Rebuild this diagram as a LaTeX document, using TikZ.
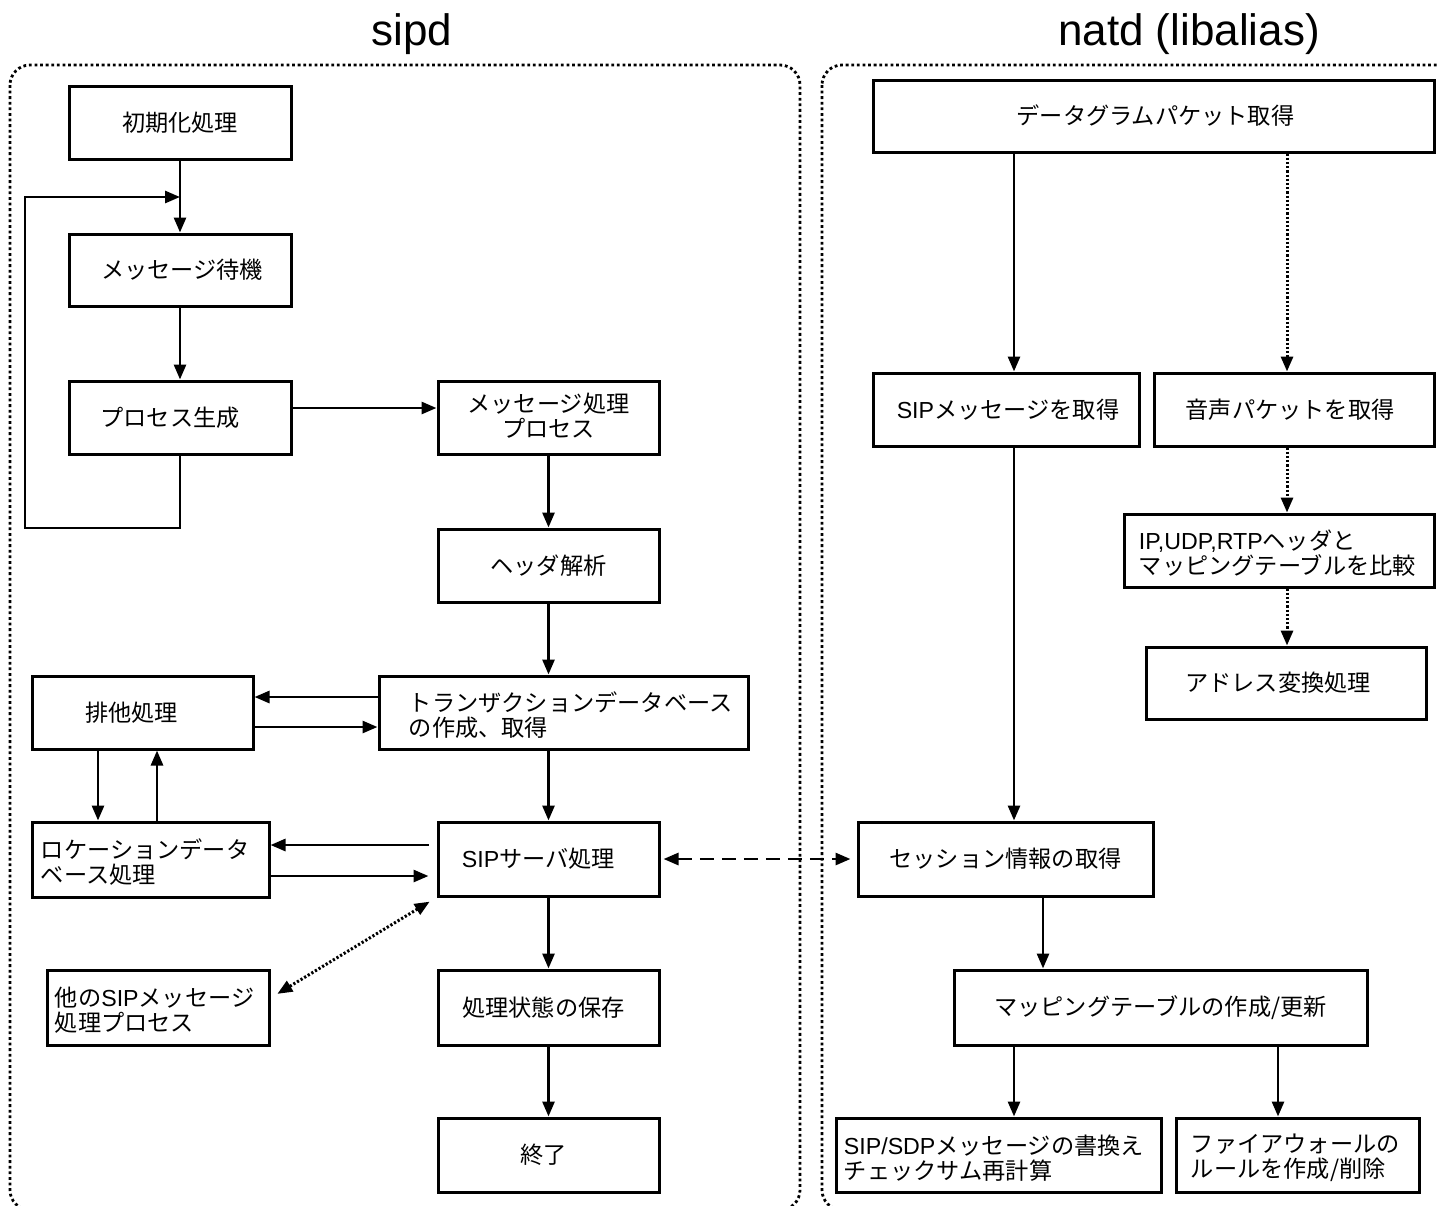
\documentclass[tikz,border=0pt]{standalone}
\usepackage{fontspec}
\setmainfont{Liberation Sans}
\newfontfamily\jpf{Noto Sans CJK JP}
\newfontfamily\enf{Liberation Sans}
\usetikzlibrary{arrows.meta,fit}

\newcommand\boxfont{\fontsize{11.6}{12.5}\selectfont\jpf}

\begin{document}
\begin{tikzpicture}[x=0.5pt,y=-0.5pt,
  box/.style={draw, line width=1.5pt, inner sep=0pt},
  lbl/.style={font=\boxfont, inner sep=0pt, align=left},
  clbl/.style={font=\boxfont, inner sep=0pt, align=center},
  frame/.style={line width=1.4pt, dash pattern=on 1.4pt off 1.4pt, rounded corners=10pt},
  tip/.style={-{Triangle[length=7.5pt,width=6pt]}},
  arr/.style={line width=1.4pt, tip},
  dotarr/.style={line width=1.5pt, dash pattern=on 1.1pt off 1pt, tip},
  dasharr/.style={line width=1.4pt, dash pattern=on 7pt off 4pt,
    {Triangle[length=7.5pt,width=6pt]}-{Triangle[length=7.5pt,width=6pt]}},
  title/.style={font=\fontsize{22}{26}\selectfont\enf, anchor=base}
]
\useasboundingbox (0,0) rectangle (1438,1205);
\clip (0,0) rectangle (1438,1205);

% process groups
\draw[frame] (10,65) rectangle (800,1210);
\draw[frame] (822,65) rectangle (1480,1210);
\node[title] (tsipd) at (412,45) {sipd};
\node[title] (tnatd) at (1189,45) {natd (libalias)};

% ---- sipd ----
\node[box, fit={(69,86) (291,159)}, label={[clbl]center:初期化処理}] (init) {};
\node[box, fit={(69,234) (291,306)}, label={[clbl,xshift=1pt]center:メッセージ待機}] (wait) {};
\node[box, fit={(69,381) (291,454)}, label={[clbl,xshift=-5pt]center:プロセス生成}] (gen) {};
\node[box, fit={(438,381) (659,454)}, label={[clbl,yshift=1pt]center:メッセージ処理\\プロセス}] (msgproc) {};
\node[box, fit={(438,529) (659,602)}, label={[clbl]center:ヘッダ解析}] (hdr) {};
\node[box, fit={(379,676) (748,749)}] (trans) {};
\node[lbl, anchor=west] (transt) at ([xshift=15.5pt,yshift=-1.5pt]trans.west) {トランザクションデータベース\\の作成、取得};
\node[box, fit={(32,676) (253,749)}, label={[clbl,xshift=-5.5pt]center:排他処理}] (excl) {};
\node[box, fit={(32,822) (269,897)}] (loc) {};
\node[lbl, anchor=west] (loct) at ([xshift=5pt,yshift=-1.5pt]loc.west) {ロケーションデータ\\ベース処理};
\node[box, fit={(438,822) (659,896)}, label={[clbl,xshift=-5pt]center:{\enf SIP}サーバ処理}] (sip) {};
\node[box, fit={(47,970) (269,1045)}] (other) {};
\node[lbl, anchor=west] (othert) at ([xshift=4.5pt,yshift=-1.5pt]other.west) {他の{\enf SIP}メッセージ\\処理プロセス};
\node[box, fit={(438,970) (659,1045)}, label={[clbl,xshift=-2.5pt]center:処理状態の保存}] (save) {};
\node[box, fit={(438,1118) (659,1192)}, label={[clbl,xshift=-2.5pt]center:終了}] (fin) {};

% ---- natd ----
\node[box, fit={(873,80) (1434,152)}, label={[clbl,xshift=1pt]center:データグラムパケット取得}] (dg) {};
\node[box, fit={(873,373) (1139,446)}, label={[clbl,xshift=1pt]center:{\enf SIP}メッセージを取得}] (sipget) {};
\node[box, fit={(1154,373) (1434,446)}, label={[clbl,xshift=-2pt]center:音声パケットを取得}] (voice) {};
\node[box, fit={(1124,514) (1434,587)}] (cmp) {};
\node[lbl, anchor=west] (cmpt) at ([xshift=8pt,yshift=-1.5pt]cmp.west) {{\enf IP,UDP,RTP}ヘッダと\\マッピングテーブルを比較};
\node[box, fit={(1146,647) (1426,719)}, label={[clbl,xshift=-4pt]center:アドレス変換処理}] (addr) {};
\node[box, fit={(858,822) (1153,896)}, label={[clbl]center:セッション情報の取得}] (sess) {};
\node[box, fit={(954,970) (1367,1045)}, label={[clbl]center:マッピングテーブルの作成/更新}] (map) {};
\node[box, fit={(836,1118) (1161,1192)}] (rew) {};
\node[lbl, anchor=west] (rewt) at ([xshift=4.5pt,yshift=-1.5pt]rew.west) {{\enf SIP/SDP}メッセージの書換え\\チェックサム再計算};
\node[box, fit={(1176,1118) (1419,1192)}] (fw) {};
\node[lbl, anchor=west] (fwt) at ([xshift=8pt,yshift=-1.5pt]fw.west) {ファイアウォールの\\ルールを作成/削除};

% ---- sipd connectors ----
\coordinate (loopin) at (180,197);
\draw[arr] (init.south) -- (wait.north);
\draw[arr] (gen.south) |- (25,528) |- (loopin);
\draw[arr] (wait.south) -- (gen.north);
\draw[arr] (gen.east |- 0,408) -- (msgproc.west |- 0,408);
\draw[arr] (msgproc.south) -- (hdr.north);
\draw[arr] (hdr.south) -- (trans.north -| hdr.south);
\draw[arr] (trans.south -| sip.north) -- (sip.north);
\draw[arr] (sip.south) -- (save.north);
\draw[arr] (save.south) -- (fin.north);
\draw[arr] (trans.west |- 0,697) -- (excl.east |- 0,697);
\draw[arr] (excl.east |- 0,727) -- (trans.west |- 0,727);
\draw[arr] (excl.south -| 98,0) -- (loc.north -| 98,0);
\draw[arr] (loc.north -| 157,0) -- (excl.south -| 157,0);
\draw[arr, shorten <=4pt] (sip.west |- 0,845) -- (loc.east |- 0,845);
\draw[arr, shorten >=4pt] (loc.east |- 0,876) -- (sip.west |- 0,876);
\draw[dotarr, {Triangle[length=7.5pt,width=6pt]}-{Triangle[length=7.5pt,width=6pt]}, shorten <=4pt, shorten >=4pt]
  (sip.south west) -- (other.east |- 0,998);
\draw[dasharr, shorten <=1.5pt, shorten >=3pt] (sip.east) -- (sess.west);

% ---- natd connectors ----
\draw[arr] (dg.south -| 1014,0) -- (sipget.north -| 1014,0);
\draw[dotarr] (dg.south -| 1287,0) -- (voice.north -| 1287,0);
\draw[dotarr] (voice.south -| 1287,0) -- (cmp.north -| 1287,0);
\draw[dotarr] (cmp.south -| 1287,0) -- (addr.north -| 1287,0);
\draw[arr] (sipget.south -| 1014,0) -- (sess.north -| 1014,0);
\draw[arr] (sess.south -| 1043,0) -- (map.north -| 1043,0);
\draw[arr] (map.south -| 1014,0) -- (rew.north -| 1014,0);
\draw[arr] (map.south -| 1278,0) -- (fw.north -| 1278,0);
\end{tikzpicture}
\end{document}
